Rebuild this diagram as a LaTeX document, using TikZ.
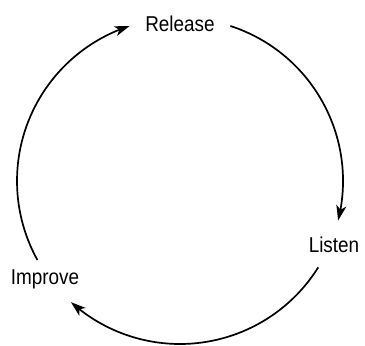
\documentclass[tikz,border=0pt]{standalone}
\usepackage{fontspec}
\setmainfont{Liberation Sans}[FakeStretch=0.88]
\usetikzlibrary{arrows.meta,bending}
\begin{document}
\begin{tikzpicture}[x=1pt,y=-1pt,
  stage/.style={font=\fontsize{21.5}{25}\selectfont, inner sep=0pt},
  cycle/.style={line width=1.7pt, -{Stealth[length=15pt,width=10pt,inset=4pt,flex]}}]
  \useasboundingbox (0,0) rectangle (365,346);
  % loop centre and radius
  \coordinate (c) at (180,181);
  \def\rad{163}
  % stage labels
  \node[stage] (release) at (180,24) {Release};
  \node[stage] (listen)  at (334,245) {Listen};
  \node[stage] (improve) at (45,279) {Improve};
  % arcs of the cycle (angles measured with y pointing down)
  \draw[cycle] (c) ++(-72:\rad) arc[start angle=-72, end angle=14, radius=\rad];
  \draw[cycle] (c) ++(32:\rad) arc[start angle=32, end angle=132, radius=\rad];
  \draw[cycle] (c) ++(151:\rad) arc[start angle=151, end angle=252, radius=\rad];
\end{tikzpicture}
\end{document}
